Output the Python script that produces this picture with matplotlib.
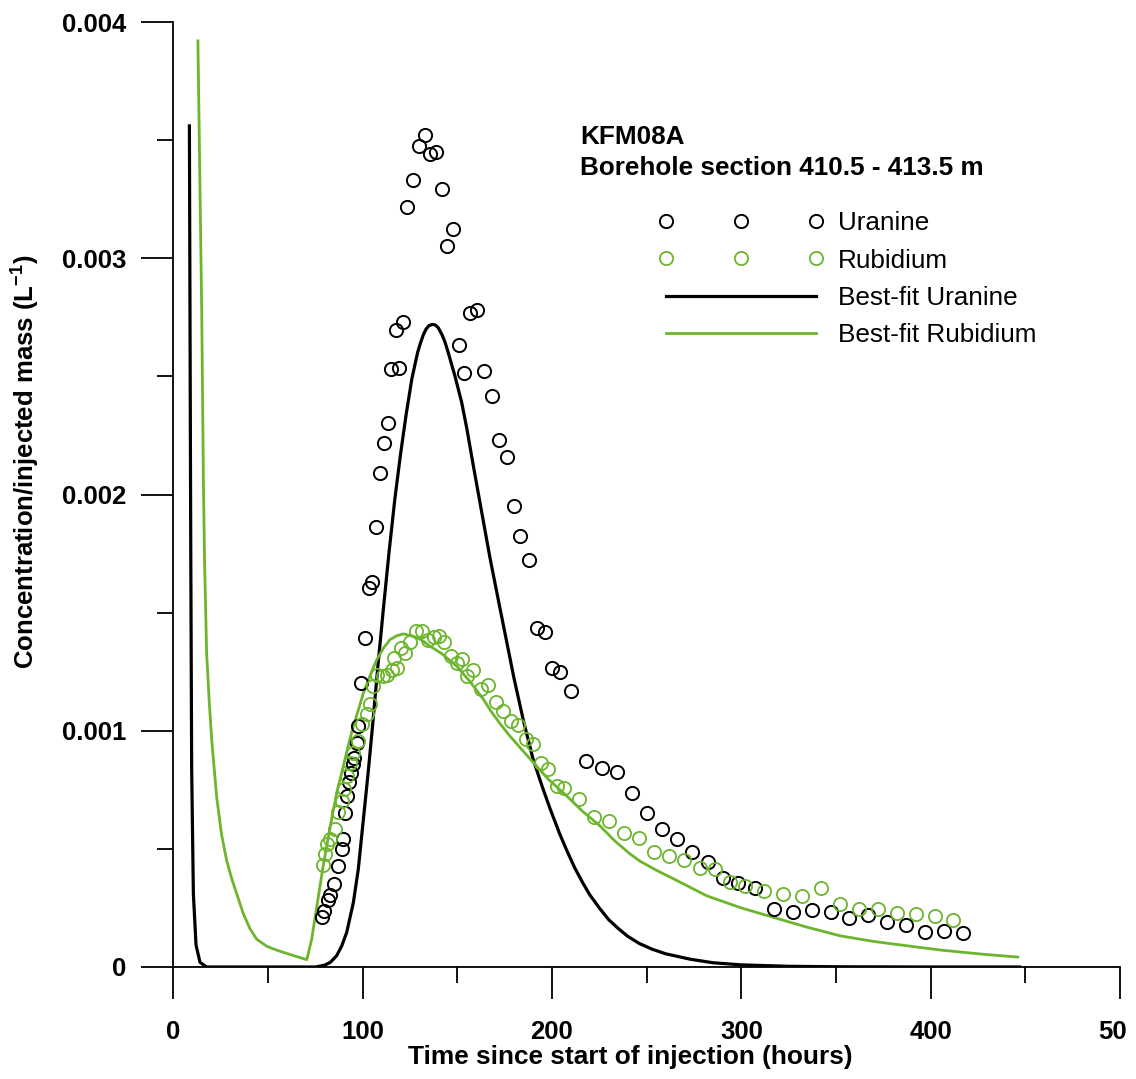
import numpy as np
import matplotlib
matplotlib.use('Agg')
import matplotlib.pyplot as plt
from matplotlib.ticker import MultipleLocator
from matplotlib.transforms import Bbox

# concentrations are given in units of 1e-3 L^-1
SCALE = 1e-3

uranine_t = [78.7, 79.8, 81.6, 82.9, 85.1, 87.2, 89.0, 89.8, 90.9, 91.8, 92.8, 93.9, 94.8, 95.6,
             96.9, 97.7, 99.2, 101.4, 103.2, 105.1, 107.2, 109.2, 111.3, 113.3, 114.8, 119.2,
             117.5, 121.3, 123.6, 126.8, 129.8, 132.8, 135.6, 138.6, 141.8, 144.6, 147.6, 150.8,
             153.7, 156.7, 160.3, 164.3, 168.4, 172.2, 176.1, 180.1, 183.1, 187.9, 192.3, 196.4,
             200.2, 204.3, 210.1, 218.2, 226.3, 234.2, 242.3, 250.4, 258.2, 266.2, 274.2, 282.2,
             290.2, 298.2, 307.1, 317.2, 327.2, 337.2, 347.3, 357.1, 367.1, 377.0, 387.1, 397.1,
             407.1, 417.0]
uranine_c = [0.213, 0.238, 0.283, 0.304, 0.351, 0.428, 0.499, 0.541, 0.650, 0.724, 0.781, 0.823,
             0.858, 0.886, 0.950, 1.020, 1.203, 1.393, 1.605, 1.628, 1.861, 2.093, 2.220, 2.302,
             2.530, 2.537, 2.697, 2.730, 3.215, 3.330, 3.477, 3.522, 3.443, 3.449, 3.294, 3.053,
             3.125, 2.634, 2.516, 2.770, 2.781, 2.524, 2.418, 2.232, 2.157, 1.950, 1.823, 1.724,
             1.433, 1.420, 1.267, 1.247, 1.168, 0.872, 0.844, 0.827, 0.738, 0.650, 0.586, 0.543,
             0.485, 0.445, 0.378, 0.355, 0.335, 0.244, 0.234, 0.241, 0.231, 0.206, 0.220, 0.189,
             0.178, 0.150, 0.153, 0.144]

rubidium_t = [79.2, 80.1, 81.0, 82.8, 85.4, 87.2, 89.0, 90.2, 91.6, 93.4, 94.8, 97.7, 99.5, 102.2,
              103.9, 105.7, 107.8, 110.9, 113.0, 115.4, 118.0, 116.6, 120.1, 122.4, 125.0, 128.2,
              131.2, 134.7, 137.9, 140.4, 143.2, 146.5, 149.7, 152.3, 155.0, 158.2, 162.4, 166.1,
              170.5, 174.3, 178.4, 182.3, 186.3, 190.2, 194.2, 198.1, 202.5, 206.4, 214.3, 222.2,
              230.3, 238.2, 246.2, 254.1, 262.0, 269.9, 278.2, 286.2, 294.1, 302.0, 312.0, 322.2,
              332.1, 342.2, 352.2, 362.2, 372.1, 382.1, 392.2, 402.2, 412.0]
rubidium_c = [0.432, 0.478, 0.520, 0.541, 0.583, 0.654, 0.703, 0.752, 0.809, 0.865, 0.907, 0.956,
              1.027, 1.069, 1.112, 1.189, 1.234, 1.231, 1.234, 1.259, 1.264, 1.309, 1.351, 1.330,
              1.377, 1.421, 1.424, 1.386, 1.398, 1.403, 1.375, 1.316, 1.288, 1.302, 1.231, 1.257,
              1.175, 1.193, 1.121, 1.084, 1.041, 1.023, 0.964, 0.943, 0.865, 0.837, 0.766, 0.757,
              0.710, 0.637, 0.618, 0.569, 0.548, 0.485, 0.468, 0.455, 0.418, 0.414, 0.361, 0.341,
              0.322, 0.309, 0.302, 0.333, 0.266, 0.245, 0.245, 0.228, 0.224, 0.214, 0.200]

fit_uranine_t = [8.5, 9.2, 9.7, 10.6, 12.0, 14.1, 17.6, 25, 50, 75, 80, 83, 86.3, 89, 91.6, 95.1,
                 97.7, 100.4, 103, 105, 108, 111, 114, 117, 120, 123, 126, 129, 130.5, 132, 133.5,
                 135, 137, 138.5, 140, 142, 143.5, 145.3, 148.8, 152.3, 155, 158.5, 163, 167.3,
                 172, 176, 180, 185, 190, 195, 199, 204, 208, 212, 216, 220, 225, 230, 235, 240,
                 246, 253, 260, 273, 285, 300, 325, 350, 400, 447]
fit_uranine_c = [3.56, 1.81, 0.84, 0.31, 0.093, 0.02, 0.0, 0.0, 0.0, 0.0, 0.008, 0.02, 0.048, 0.09,
                 0.147, 0.273, 0.414, 0.626, 0.83, 1.0, 1.27, 1.52, 1.76, 1.98, 2.17, 2.34, 2.49,
                 2.60, 2.64, 2.675, 2.70, 2.715, 2.72, 2.717, 2.705, 2.675, 2.645, 2.598, 2.50,
                 2.39, 2.28, 2.12, 1.92, 1.73, 1.54, 1.38, 1.22, 1.04, 0.88, 0.76, 0.67, 0.565,
                 0.49, 0.42, 0.36, 0.305, 0.25, 0.20, 0.163, 0.13, 0.10, 0.075, 0.056, 0.033,
                 0.018, 0.009, 0.003, 0.001, 0.0, 0.0]

fit_rubidium_t = [13.0, 14.0, 15.0, 15.9, 16.5, 17.6, 19.0, 20.3, 22.9, 25.5, 28.2, 31.0, 33.5,
                  37.0, 40.5, 44.0, 49.3, 53.0, 58.1, 64.0, 70.5, 73.1, 79.2, 83.7, 86.5, 89.8,
                  92.5, 95.1, 98.0, 100.4, 104.0, 107.4, 111.0, 114.5, 118.0, 121.5, 126.8, 131.0,
                  135.6, 142.0, 149.7, 156.5, 163.8, 168.0, 172.6, 177.0, 183.0, 190.2, 198.0,
                  207.8, 216.0, 225.4, 233.0, 241.0, 246.5, 255.0, 265.0, 281.8, 300.0, 317.0,
                  335.0, 352.2, 370.0, 387.4, 405.0, 426.2, 446.0]
fit_rubidium_c = [3.92, 3.35, 2.78, 2.06, 1.72, 1.33, 1.12, 0.96, 0.72, 0.56, 0.45, 0.37, 0.31,
                  0.225, 0.162, 0.118, 0.088, 0.076, 0.062, 0.047, 0.031, 0.118, 0.43, 0.63,
                  0.745, 0.85, 0.94, 1.02, 1.095, 1.16, 1.235, 1.30, 1.35, 1.386, 1.402, 1.41,
                  1.40, 1.385, 1.358, 1.325, 1.273, 1.21, 1.133, 1.08, 1.03, 0.985, 0.93, 0.865,
                  0.795, 0.724, 0.66, 0.597, 0.535, 0.48, 0.448, 0.41, 0.37, 0.301, 0.25, 0.21,
                  0.168, 0.132, 0.108, 0.09, 0.072, 0.055, 0.042]

x_ticks = [0, 100, 200, 300, 400, 500]
x_tick_labels = ['0', '100', '200', '300', '400', '500']
y_ticks = [0, 0.001, 0.002, 0.003, 0.004]
y_tick_labels = ['0', '0.001', '0.002', '0.003', '0.004']

green = '#6cb52d'

plt.rcParams['font.family'] = ['Liberation Sans', 'DejaVu Sans']

fig = plt.figure(figsize=(11.36, 10.79), dpi=100)
ax = fig.add_axes([173.3 / 1136, 112 / 1079, 946.7 / 1136, 945 / 1079])

ax.plot(fit_uranine_t, np.array(fit_uranine_c) * SCALE, color='black', lw=2.3,
        label='Best-fit Uranine', zorder=3)
ax.plot(fit_rubidium_t, np.array(fit_rubidium_c) * SCALE, color=green, lw=2.0,
        label='Best-fit Rubidium', zorder=3)
ax.plot(uranine_t, np.array(uranine_c) * SCALE, 'o', mfc='none', mec='black', mew=1.4,
        ms=9.5, label='Uranine', zorder=4)
ax.plot(rubidium_t, np.array(rubidium_c) * SCALE, 'o', mfc='none', mec=green, mew=1.3,
        ms=9.5, label='Rubidium', zorder=4)

ax.set_xlim(0, 500)
ax.set_ylim(0, 0.004)
ax.set_xticks(x_ticks, labels=x_tick_labels)
ax.set_yticks(y_ticks, labels=y_tick_labels)
ax.xaxis.set_minor_locator(MultipleLocator(50))
ax.yaxis.set_minor_locator(MultipleLocator(0.0005))
ax.tick_params(which='major', direction='out', length=23, width=1.3, labelsize=18.5)
ax.tick_params(which='minor', direction='out', length=11.5, width=1.3)
ax.tick_params(axis='x', which='major', pad=15)
ax.tick_params(axis='y', which='major', pad=11)
for lbl in ax.get_xticklabels() + ax.get_yticklabels():
    lbl.set_fontweight('bold')

for side in ['top', 'right']:
    ax.spines[side].set_visible(False)
for side in ['left', 'bottom']:
    ax.spines[side].set_linewidth(1.3)

ax.set_xlabel('Time since start of injection (hours)', fontsize=18.9, fontweight='bold')
ax.xaxis.set_label_coords(0.483, -0.083)
ax.set_ylabel(r'Concentration/injected mass (L$^{\mathregular{-1}}$)', fontsize=18.5,
              fontweight='bold')
ax.yaxis.set_label_coords(-0.14, 0.535)

ax.text(0.4295, 0.8709, 'KFM08A', transform=ax.transAxes, fontsize=18.8,
        fontweight='bold', va='baseline')
ax.text(0.4295, 0.8376, 'Borehole section 410.5 - 413.5 m', transform=ax.transAxes,
        fontsize=18.8, fontweight='bold', va='baseline')

handles, labels = ax.get_legend_handles_labels()
order = [2, 3, 0, 1]
ax.legend([handles[i] for i in order], [labels[i] for i in order],
          loc='upper left', bbox_to_anchor=(0.5122, 0.7997), frameon=False,
          fontsize=18.8, numpoints=3, handlelength=6.35, handletextpad=0.54,
          borderpad=0, borderaxespad=0, labelspacing=0.51)

# the reference is cropped at the right edge, cutting the last tick label
last = ax.get_xticklabels()[-1]
last.set_clip_on(True)
last.set_clip_box(Bbox.from_extents(0, 0, 1126, 1079))

fig.savefig('out.png', dpi=100)
